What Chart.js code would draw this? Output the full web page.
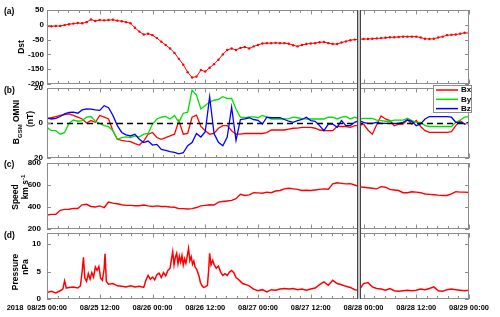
<!DOCTYPE html>
<html>
<head>
<meta charset="utf-8">
<script src="https://cdn.jsdelivr.net/npm/chart.js@4.4.0/dist/chart.umd.min.js"></script>
<style>
  html, body { margin: 0; padding: 0; background: #fff; }
  #wrap { position: relative; width: 500px; height: 317px; }
  #wrap canvas { position: absolute; left: 0; top: 0; }
</style>
</head>
<body>
<div id="wrap">
  <canvas id="panel-a" width="500" height="317"></canvas>
  <canvas id="panel-b" width="500" height="317"></canvas>
  <canvas id="panel-c" width="500" height="317"></canvas>
  <canvas id="panel-d" width="500" height="317"></canvas>
  <canvas id="labels" width="500" height="317"></canvas>
</div>
<script>
// time axis: hours since 2018-08-25 00:00
const xTickLabels = ['08/25 00:00', '08/25 12:00', '08/26 00:00', '08/26 12:00', '08/27 00:00',
  '08/27 12:00', '08/28 00:00', '08/28 12:00', '08/29 00:00'];
const yearLabel = '2018';
const eventWindow = [70.6, 71.3];

const dstTicks = [-200, -150, -100, -50, 0, 50];
const bTicks = [-20, 0, 20];
const speedTicks = [200, 400, 600, 800];
const pressureTicks = [0, 5, 10];

// hourly values, first one at 08/25 00:00
const dstValues = [
  -5, -5, -4, -4, -1, 2, 4, 6, 5, 9,
  18, 13, 16, 15, 16, 17, 14, 12, 9, 5,
  -10, -23, -33, -30, -35, -45, -57, -68, -80, -95,
  -115, -135, -160, -178, -175, -153, -158, -145, -133, -118,
  -100, -85, -80, -85, -78, -75, -80, -73, -68, -63,
  -62, -62, -61, -62, -62, -64, -69, -73, -68, -65,
  -63, -62, -59, -58, -62, -65, -65, -60, -56, -52,
  -50, -49, -48, -48, -47, -46, -45, -44, -42, -42,
  -41, -40, -40, -40, -40, -43, -47, -48, -47, -43,
  -40, -35, -34, -33, -30, -27, -28
];

const bxValues = [
  2.3, 3, 3.7, 4.3, 4.8, 5.2, 4.3, 3.3, 2.3, 0,
  1.4, 0.4, 4.3, 3.3, 2.3, -4.4, -9.3, -9.9, -10.3, -10.6,
  -11.8, -12.6, -10.3, -6.4, -5.4, -8.3, -9.3, -8.3, -7.4, -6.4,
  1.4, -6.4, -6, 3.3, 4.5, -2, -4.4, -6.4, -6, -3,
  -1.5, -1.5, -4.4, -6.4, -6.4, -6, -6, -6, -6, -6,
  -5.5, -4, -4, -4, -4, -3.5, -3, -2.9, -2.5, -2.5,
  -2.5, -3, -4, -4.4, -4.4, -4.4, -2, -2, -2, -2.5,
  -1.5, -1.5, -0.6, -4, -6.4, -1, 4, 2.3, 1.4, -1.5,
  -0.6, -0.6, 2, -0.6, 1.4, -2, -4.4, -5.4, -5.4, -5.4,
  -5.4, -5.4, -5, -1.5, 1.4, -0.6, 0.4
];

const byValues = [
  -2.5, -4.4, -4.4, -6.4, -5.4, -0.2, 1.7, 1, 1.4, 3.3,
  3.7, 1, -0.2, -1.5, -2.1, -4.4, -9.3, -8.3, -7.9, -8.3,
  -7.4, -7.9, -6.4, -6, -0.6, 2.3, 3.3, 3.7, 2.3, 4.3,
  0.4, 5.6, 6.2, 18.8, 16, 8, 10, 12, 13, 13.5,
  15, 14, 14, 8, 3.3, 3, 3.5, 3.5, 3, 4.3,
  3.3, 2.3, 2.3, 2.3, 2.3, 2.5, 3.3, 3, 2.5, 2.3,
  2.3, 2.3, 2.3, 2.3, 3.3, 3.3, 2.3, 3.3, 3.7, 2.3,
  3.3, 2.3, 2.7, 2.7, 2.7, 1.7, 1.4, 1, 1, 1.7,
  1.7, 1.7, 2.7, 1.4, 0.4, 0.4, -1.5, -2, -2, -2,
  -2, -2, -2, 0.4, 1.7, 3.3, 3.7
];

const bzValues = [
  2.9, 2.3, 2.7, 3.7, 5.2, 6, 6.2, 5.6, 7.5, 8.1,
  7.9, 7.5, 7.2, 9.9, 8.7, 4.3, -1.5, -5.4, -6.8, -7.4,
  -6.4, -9.3, -11.2, -10.3, -12.6, -12.2, -15.1, -15.7, -16.4, -16.8,
  -17.6, -17, -13, -11.2, -6, -8, -5, 15, -6, -11,
  -13, -8, 9, -10, 2, 2.3, 3, 2, 1.5, -0.6,
  3.3, 3, 3, 3, 2, 1, 0.4, 1.4, 2, 3.3,
  1.4, 1, -1.5, -4.4, -0.6, -0.6, -2.5, 1.4, -1.5, -1.5,
  0.4, 1.4, 0.4, -0.2, -0.2, 0.4, -0.2, -0.2, -0.2, -0.2,
  -0.2, 0.4, 1.7, 1, -1.5, -0.6, 2.3, 3.7, 3.7, 3.7,
  3.7, 3.7, 3.3, 0.4, 0.4, -0.6, 0.4
];

const speedValues = [
  327, 333, 333, 370, 378, 380, 387, 387, 420, 425,
  405, 400, 410, 395, 445, 435, 430, 420, 415, 415,
  412, 412, 418, 410, 405, 410, 405, 405, 400, 398,
  385, 385, 382, 385, 395, 410, 415, 420, 418, 445,
  450, 455, 460, 475, 515, 505, 510, 530, 528, 525,
  535, 530, 545, 550, 565, 570, 565, 560, 550, 552,
  550, 555, 560, 565, 562, 610, 620, 615, 610, 612,
  600, 585, 580, 575, 570, 565, 585, 580, 560, 555,
  550, 530, 530, 538, 535, 530, 518, 515, 512, 508,
  505, 505, 520, 540, 535, 535, 532
];

// pressure is sampled unevenly (denser around the spikes)
const pressureHours = [
  0, 1, 2, 3, 3.6, 4, 4.4, 5, 6, 7, 7.6,
  8, 8.3, 8.6, 9, 9.4, 9.8, 10.2, 10.6, 11, 11.4, 11.8, 12.2, 12.6, 13, 13.2, 13.5,
  14, 15, 16, 17, 18, 19, 20, 21, 22, 22.5, 23, 23.5, 24, 24.5, 25, 25.5, 26, 26.5, 27, 27.5,
  28, 28.3, 28.6, 28.9, 29.2, 29.5, 29.8, 30.1, 30.4, 30.7, 31, 31.3, 31.6, 31.9,
  32.2, 32.5, 32.8, 33.1, 33.4, 33.7, 34, 34.3, 34.6, 34.9, 35.2, 35.6,
  36, 36.5, 36.8, 37, 37.3, 37.7, 38, 38.5, 39, 39.5, 40, 40.5, 41, 41.5, 42, 42.5, 43, 43.5, 44, 44.5, 45, 46, 47,
  48, 49, 50, 51, 52, 53, 54, 55, 56, 57, 58, 59, 60, 61, 62, 63, 64, 65, 66, 67, 68, 69, 70, 71,
  72, 73, 74, 75, 76, 77, 78, 79, 80, 81, 82, 83, 84, 85, 86, 87, 88, 89, 90, 91, 92, 93, 94, 95, 96
];
const pressureValues = [
  1.2, 1.4, 1.1, 1.5, 1.8, 3.3, 2.0, 2.1, 2.2, 2.0, 2.4,
  5.0, 7.6, 3.8, 3.2, 4.6, 3.6, 4.8, 4.0, 5.8, 5.2, 5.9, 3.8, 3.4, 5.5, 8.2, 3.2,
  2.7, 2.8, 2.4, 2.3, 2.2, 2.4, 2.2, 2.3, 2.1, 3.4, 4.3, 3.6, 4.0, 3.5, 4.4, 4.7, 3.9, 4.8, 4.2, 5.2,
  5.6, 7.2, 8.6, 6.2, 7.6, 8.3, 6.4, 7.8, 6.7, 7.9, 6.2, 7.3, 6.5, 7.8,
  9.2, 7.0, 7.7, 6.3, 6.9, 5.8, 5.5, 4.8, 4.1, 3.0, 2.5, 2.1,
  2.2, 2.5, 5.5, 8.3, 6.2, 7.0, 6.3, 5.6, 6.0, 4.9, 4.3, 4.6, 4.3, 4.9, 5.2, 4.8, 3.9, 3.6, 3.2, 2.8, 2.7, 2.4, 1.8,
  1.5, 1.7, 1.3, 1.7, 1.6, 1.8, 1.9, 1.8, 1.9, 1.7, 1.8, 1.6, 1.8, 2.0, 2.6, 3.1, 2.5, 3.4, 2.8, 2.6, 2.3, 2.1, 1.7, 1.6,
  2.8, 3.0, 2.2, 1.9, 1.8, 1.6, 1.9, 1.5, 1.4, 1.5, 1.6, 1.5, 1.6, 1.8, 1.7, 1.9, 2.2, 1.5, 1.4, 1.7, 1.8, 1.7, 1.6, 1.5, 1.6
];

const FONT = 'Liberation Sans';
const RED = '#ff0000', GREEN = '#00e000', BLUE = '#0000ff';
const FRAME = '#8c8c8c';
const TOP_OF_A = 10, BOTTOM_OF_D = 299;

const hourly = values => values.map((v, i) => ({ x: i, y: v }));
const zip = (xs, ys) => xs.map((x, i) => ({ x, y: ys[i] }));

function drawVText(ctx, cx, cy, parts) {
  ctx.save();
  let total = 0;
  parts.forEach(([t, size]) => { ctx.font = `bold ${size}px ${FONT}`; total += ctx.measureText(t).width; });
  ctx.translate(cx, cy);
  ctx.rotate(-Math.PI / 2);
  ctx.textBaseline = 'middle';
  ctx.textAlign = 'left';
  ctx.fillStyle = '#000';
  let pos = -total / 2;
  parts.forEach(([t, size, shift]) => {
    ctx.font = `bold ${size}px ${FONT}`;
    ctx.fillText(t, pos, shift);
    pos += ctx.measureText(t).width;
  });
  ctx.restore();
}

function decoPlugin(spec) {
  return {
    id: 'deco',
    afterDatasetsDraw(chart) {
      const { ctx, chartArea: a, scales: { y } } = chart;
      if (spec.zeroLine) {
        const py = Math.round(y.getPixelForValue(0)) + 0.5;
        ctx.save();
        ctx.strokeStyle = '#000';
        ctx.lineWidth = 1.4;
        ctx.setLineDash([6, 4]);
        ctx.beginPath(); ctx.moveTo(a.left, py); ctx.lineTo(a.right, py); ctx.stroke();
        ctx.restore();
      }
    },
    afterDraw(chart) {
      const { ctx, chartArea: a, scales: { x, y } } = chart;
      ctx.save();
      // frame + inward ticks
      ctx.strokeStyle = FRAME;
      ctx.lineWidth = 1;
      ctx.strokeRect(a.left + 0.5, a.top + 0.5, a.width - 1, a.height - 1);
      ctx.beginPath();
      for (let i = 0; i <= 40; i++) {
        const px = Math.round(x.getPixelForValue(i * 2.4)) + 0.5;
        const len = i % 5 === 0 ? 4.5 : 3;
        ctx.moveTo(px, a.top); ctx.lineTo(px, a.top + len);
        ctx.moveTo(px, a.bottom); ctx.lineTo(px, a.bottom - len);
      }
      spec.ticks.forEach(v => {
        const py = Math.round(y.getPixelForValue(v)) + 0.5;
        ctx.moveTo(a.left, py); ctx.lineTo(a.left + 4, py);
        ctx.moveTo(a.right, py); ctx.lineTo(a.right - 4, py);
      });
      ctx.stroke();

      if (spec.legend) {
        const rows = chart.data.datasets;
        ctx.fillStyle = '#fff';
        ctx.fillRect(433, 85, 39, 28);
        ctx.strokeStyle = FRAME;
        ctx.strokeRect(433.5, 85.5, 38, 27);
        ctx.textAlign = 'left';
        ctx.textBaseline = 'middle';
        rows.forEach((ds, i) => {
          const ry = 90 + i * 9.3;
          ctx.strokeStyle = ds.borderColor;
          ctx.lineWidth = 1.5;
          ctx.beginPath(); ctx.moveTo(436, ry); ctx.lineTo(458, ry); ctx.stroke();
          ctx.fillStyle = '#000';
          ctx.font = `bold 8px ${FONT}`;
          ctx.fillText(ds.label, 461, ry);
        });
      }

      if (spec.event) {
        const x0 = Math.round(x.getPixelForValue(eventWindow[0])) + 0.5;
        const x1 = Math.round(x.getPixelForValue(eventWindow[1])) + 0.5;
        ctx.fillStyle = '#c4c4c4';
        ctx.fillRect(x0, TOP_OF_A, x1 - x0, BOTTOM_OF_D - TOP_OF_A);
        ctx.strokeStyle = '#444';
        ctx.lineWidth = 1;
        ctx.beginPath();
        ctx.moveTo(x0, TOP_OF_A); ctx.lineTo(x0, BOTTOM_OF_D);
        ctx.moveTo(x1, TOP_OF_A); ctx.lineTo(x1, BOTTOM_OF_D);
        ctx.stroke();
      }
      ctx.restore();
    }
  };
}

function makePanel(id, spec) {
  return new Chart(document.getElementById(id), {
    type: 'line',
    data: { datasets: spec.datasets },
    options: {
      responsive: false,
      animation: false,
      devicePixelRatio: 1,
      layout: { padding: { top: spec.top, bottom: spec.bottom, left: 0, right: 31 } },
      plugins: { legend: { display: false }, tooltip: { enabled: false } },
      elements: { point: { radius: 0 }, line: { tension: 0, borderWidth: 1.3 } },
      scales: {
        x: {
          type: 'linear', min: 0, max: 96,
          display: !!spec.showX,
          grid: { display: false, drawTicks: false },
          border: { display: false },
          ticks: {
            stepSize: 12, autoSkip: false, maxRotation: 0, padding: 4, color: '#000',
            font: { family: FONT, weight: 'bold', size: 7.5 },
            callback: v => xTickLabels[v / 12]
          },
          afterFit: s => { s.height = spec.showX ? 14 : 0; }
        },
        y: {
          min: spec.ticks[0], max: spec.max,
          grid: { display: false, drawTicks: false },
          border: { display: false },
          ticks: { display: false },
          afterFit: s => { s.width = 47; }
        }
      }
    },
    plugins: [decoPlugin(spec)]
  });
}

const specA = {
  top: 10, bottom: 233, ticks: dstTicks, max: 50, tickPad: 3,
  letter: '(a)', letterY: 12,
  titles: [{ x: 22, cy: 47, parts: [['Dst', 8.5, 0]] }],
  datasets: [{
    label: 'Dst', data: hourly(dstValues), borderColor: RED, borderWidth: 1,
    pointRadius: 1.2, pointBackgroundColor: RED, pointBorderWidth: 0
  }]
};

const specB = {
  top: 88, bottom: 159, ticks: bTicks, max: 20, tickPad: 4, absLabels: true,
  letter: '(b)', letterY: 91, zeroLine: true, legend: true,
  titles: [
    { x: 17, cy: 122, parts: [['B', 8.5, 0], ['GSM', 6, 3], [' OMNI', 8.5, 0]] },
    { x: 31, cy: 119, parts: [['(nT)', 8.5, 0]] }
  ],
  datasets: [
    { label: 'Bx', data: hourly(bxValues), borderColor: RED, order: 3 },
    { label: 'By', data: hourly(byValues), borderColor: GREEN, order: 2 },
    { label: 'Bz', data: hourly(bzValues), borderColor: BLUE, order: 1 }
  ]
};

const specC = {
  top: 163, bottom: 88, ticks: speedTicks, max: 800, tickPad: 6,
  letter: '(c)', letterY: 165,
  titles: [
    { x: 15.5, cy: 197, parts: [['Speed', 8.5, 0]] },
    { x: 26, cy: 187, parts: [['km s', 8.5, 0], ['-1', 6, -3]] }
  ],
  datasets: [{ label: 'Speed', data: hourly(speedValues), borderColor: RED, borderWidth: 1.4 }]
};

const specD = {
  top: 233, bottom: 4, ticks: pressureTicks, max: 12, tickPad: 6, showX: true,
  letter: '(d)', letterY: 236, event: true,
  titles: [
    { x: 15.5, cy: 272, parts: [['Pressure', 8.5, 0]] },
    { x: 26, cy: 267, parts: [['nPa', 8.5, 0]] }
  ],
  datasets: [{ label: 'Pressure', data: zip(pressureHours, pressureValues), borderColor: RED, borderWidth: 1.5 }]
};

const charts = [
  [makePanel('panel-a', specA), specA],
  [makePanel('panel-b', specB), specB],
  [makePanel('panel-c', specC), specC],
  [makePanel('panel-d', specD), specD]
];

// y tick labels, panel letters and axis titles on a top layer
const lctx = document.getElementById('labels').getContext('2d');
lctx.fillStyle = '#000';
charts.forEach(([chart, spec]) => {
  const y = chart.scales.y;
  const left = chart.chartArea.left;
  lctx.font = `bold 8px ${FONT}`;
  lctx.textAlign = 'right';
  lctx.textBaseline = 'middle';
  spec.ticks.forEach(v => {
    const label = spec.absLabels ? Math.abs(v) : v;
    lctx.fillText(String(label), left - spec.tickPad, y.getPixelForValue(v));
  });
  lctx.font = `bold 8.5px ${FONT}`;
  lctx.textAlign = 'left';
  lctx.fillText(spec.letter, 4, spec.letterY);
  spec.titles.forEach(t => drawVText(lctx, t.x, t.cy, t.parts));
});
lctx.font = `bold 7.5px ${FONT}`;
lctx.textAlign = 'center';
lctx.textBaseline = 'middle';
lctx.fillText(yearLabel, 15, 308);
</script>
</body>
</html>
